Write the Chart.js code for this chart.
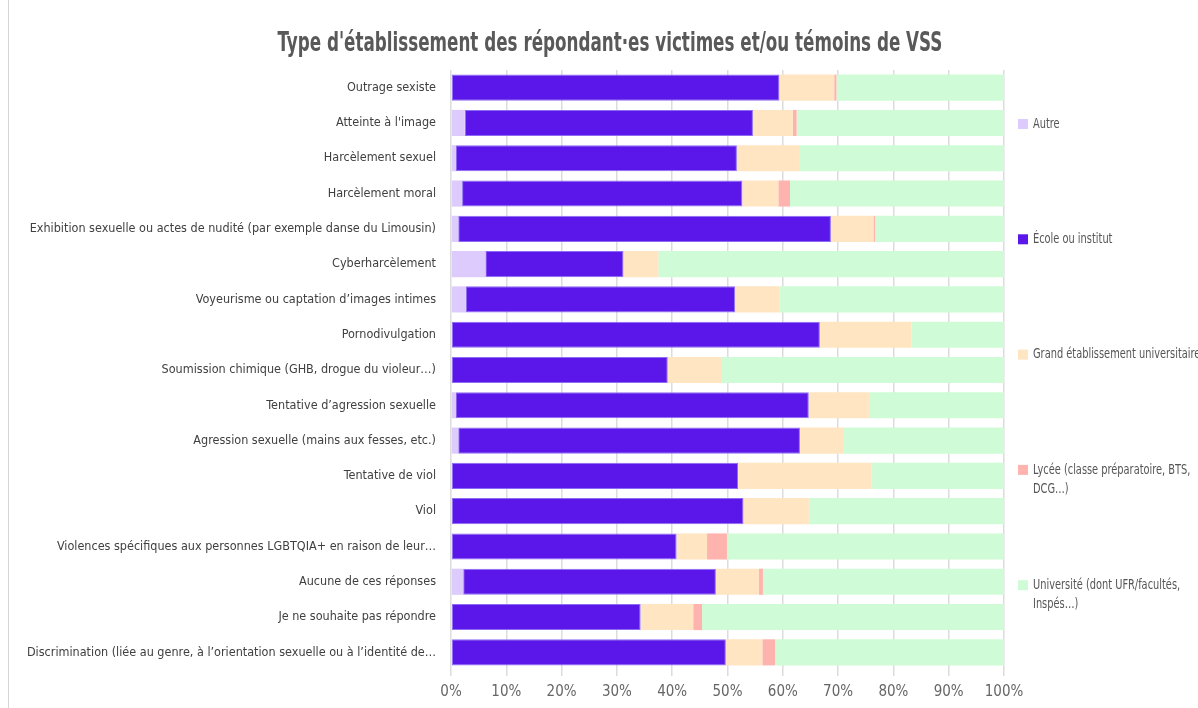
<!DOCTYPE html>
<html><head><meta charset="utf-8">
<script src="https://cdn.jsdelivr.net/npm/chart.js@4/dist/chart.umd.min.js"></script>
<style>
html,body{margin:0;padding:0;background:#fff;}
#wrap{position:relative;width:1198px;height:708px;overflow:hidden;}
#edge{position:absolute;left:8px;top:0;width:0;height:708px;border-left:1px solid #d6d6d6;}
canvas{position:absolute;left:0;top:0;}
</style></head>
<body><div id="wrap"><div id="edge"></div><canvas id="c" width="1198" height="708"></canvas></div>
<script>
const titleText = "Type d'établissement des répondant·es victimes et/ou témoins de VSS";
const categories = [
  "Outrage sexiste",
  "Atteinte à l'image",
  "Harcèlement sexuel",
  "Harcèlement moral",
  "Exhibition sexuelle ou actes de nudité (par exemple danse du Limousin)",
  "Cyberharcèlement",
  "Voyeurisme ou captation d’images intimes",
  "Pornodivulgation",
  "Soumission chimique (GHB, drogue du violeur…)",
  "Tentative d’agression sexuelle",
  "Agression sexuelle (mains aux fesses, etc.)",
  "Tentative de viol",
  "Viol",
  "Violences spécifiques aux personnes LGBTQIA+ en raison de leur…",
  "Aucune de ces réponses",
  "Je ne souhaite pas répondre",
  "Discrimination (liée au genre, à l’orientation sexuelle ou à l’identité de…"
];
const seriesNames = [
  "Autre",
  "École ou institut",
  "Grand établissement universitaire",
  "Lycée (classe préparatoire, BTS,\nDCG…)",
  "Université (dont UFR/facultés,\nInspés…)"
];
const autre      = [0, 2.5, 0.9, 2.0, 1.3, 6.2, 2.7, 0, 0, 0.8, 1.3, 0, 0, 0, 2.2, 0, 0];
const ecole      = [59.4, 52.1, 50.8, 50.7, 67.4, 25.0, 48.7, 66.7, 39.2, 63.9, 61.8, 51.9, 52.9, 40.8, 45.7, 34.3, 49.7];
const grand      = [9.9, 7.2, 11.4, 6.5, 7.7, 6.3, 8.0, 16.6, 9.8, 10.9, 7.8, 24.1, 11.8, 5.5, 7.8, 9.5, 6.6];
const lycee      = [0.4, 0.7, 0, 2.1, 0.3, 0, 0, 0, 0, 0, 0, 0, 0, 3.6, 0.7, 1.6, 2.3];
const universite = [30.3, 37.5, 36.9, 38.7, 23.3, 62.5, 40.6, 16.7, 51.0, 24.4, 29.1, 24.0, 35.3, 50.1, 43.6, 54.6, 41.4];
const xTicks = [0, 10, 20, 30, 40, 50, 60, 70, 80, 90, 100];

const colors = ['#dccbfc', '#5b16e9', '#ffe5c1', '#ffb3ae', '#cffcd6'];
const FONT = "'Liberation Sans Narrow', 'DejaVu Sans Condensed', 'Roboto', sans-serif";

const seriesValues = [autre, ecole, grand, lycee, universite];
const datasets = seriesNames.map((n, i) => ({
  label: n,
  data: seriesValues[i],
  backgroundColor: colors[i],
  borderColor: i === 1 ? '#8b6cf3' : colors[i],
  borderWidth: i === 1 ? 1 : 0,
  borderSkipped: false,
  barPercentage: 0.74,
  categoryPercentage: 1.0
}));

function condensedText(ctx, text, x, y, sx) {
  ctx.save();
  ctx.translate(x, y);
  ctx.scale(sx, 1);
  ctx.fillText(text, 0, 0);
  ctx.restore();
}

const decor = {
  id: 'decor',
  afterDraw(chart) {
    const ctx = chart.ctx;
    ctx.save();
    // title
    ctx.fillStyle = '#595959';
    ctx.font = "bold 27px " + FONT;
    ctx.textAlign = 'center';
    ctx.textBaseline = 'middle';
    condensedText(ctx, titleText, 610, 44, 0.69);
    // legend
    const ca = chart.chartArea;
    const x0 = ca.right + 14;
    const step = 115.3;
    const y0 = 124;
    ctx.font = "14px " + FONT;
    ctx.textAlign = 'left';
    chart.data.datasets.forEach((ds, i) => {
      const y = y0 + i * step;
      ctx.fillStyle = ds.backgroundColor;
      ctx.fillRect(x0, y - 5, 10, 10);
      ctx.fillStyle = '#555';
      String(ds.label).split('\n').forEach((line, k) => {
        condensedText(ctx, line, x0 + 15, y + k * 19, 0.78);
      });
    });
    ctx.restore();
  }
};

new Chart(document.getElementById('c'), {
  type: 'bar',
  data: { labels: categories, datasets },
  options: {
    indexAxis: 'y',
    responsive: false,
    animation: false,
    layout: { padding: { top: 70, right: 194, bottom: 0, left: 0 } },
    plugins: { legend: { display: false }, title: { display: false }, tooltip: { enabled: false } },
    scales: {
      x: {
        stacked: true, min: 0, max: 100,
        afterBuildTicks(scale) { scale.ticks = xTicks.map(v => ({ value: v })); },
        ticks: { callback: v => v + '%', color: '#666', padding: 7, font: { family: FONT, size: 15 } },
        grid: { color: '#dcdcdc', lineWidth: 1.5, tickLength: 6, drawTicks: true },
        border: { display: false }
      },
      y: {
        stacked: true,
        afterFit(scale) { scale.width = 451; },
        ticks: { color: '#404040', padding: 15, autoSkip: false, font: { family: FONT, size: 12.5 } },
        grid: { display: false, drawTicks: false },
        border: { display: false }
      }
    }
  },
  plugins: [decor]
});
</script></body></html>
